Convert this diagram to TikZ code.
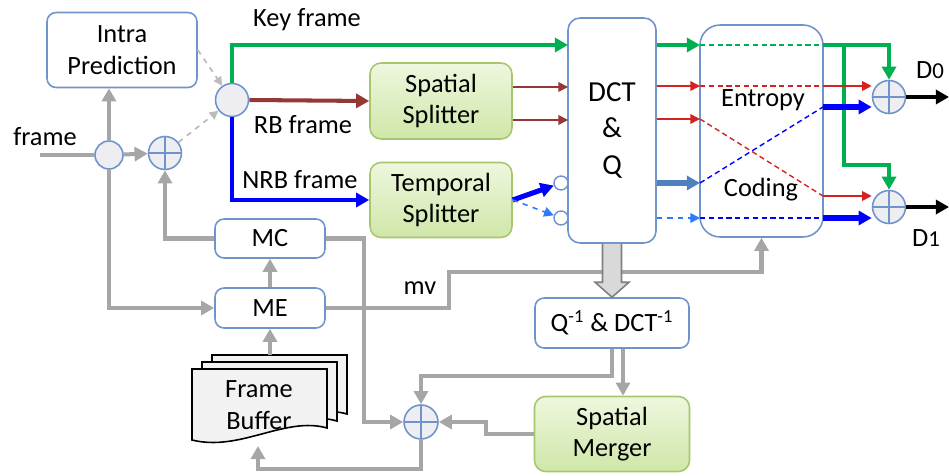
\documentclass[tikz,border=0pt]{standalone}
\usepackage{fontspec}
\setmainfont{Carlito}
\usetikzlibrary{arrows.meta,calc}

\definecolor{boxblue}{HTML}{6F94CB}
\definecolor{linegray}{HTML}{A6A6A6}
\definecolor{keygreen}{HTML}{00B050}
\definecolor{rbred}{HTML}{953735}
\definecolor{thinred}{HTML}{D42222}
\definecolor{nrbblue}{HTML}{0000FF}
\definecolor{steelblue}{HTML}{4F81BD}
\definecolor{lightblue}{HTML}{2B7BFF}
\definecolor{gtop}{HTML}{EEF7DE}
\definecolor{gbot}{HTML}{CFE7A8}
\definecolor{gborder}{HTML}{A8C66E}
\definecolor{jfill}{HTML}{EEEEF2}

\tikzset{
  box/.style={draw=boxblue,line width=0.9pt,fill=white,rounded corners=0.18cm,align=center,inner sep=2pt},
  gbox/.style={draw=gborder,line width=0.9pt,top color=gtop,bottom color=gbot,rounded corners=0.22cm,align=center,minimum width=2.84cm,minimum height=1.52cm},
  junction/.style={circle,draw=boxblue,line width=0.9pt,fill=jfill,minimum size=0.62cm,inner sep=0pt},
  adder/.style={junction,minimum size=0.66cm,path picture={\draw[boxblue,line width=0.8pt] (path picture bounding box.north) -- (path picture bounding box.south) (path picture bounding box.west) -- (path picture bounding box.east);}},
  port/.style={circle,draw=boxblue,line width=0.8pt,fill=white,minimum size=0.28cm,inner sep=0pt},
  gline/.style={draw=linegray,line width=2.3pt},
  feed/.style={draw=linegray!75,line width=1pt,dashed,>={Triangle[length=5pt,width=5pt]}},
  thin/.style={line width=0.9pt,>={Triangle[length=5.5pt,width=5.5pt]}},
  thick/.style={line width=2.3pt},
  heavy/.style={line width=2.9pt},
  inner/.style={line width=0.8pt,dash pattern=on 3pt off 2pt},
  docpage/.style={draw=black,line width=0.9pt,fill=black!5},
  bigarrow/.style={draw=black!50,line width=0.9pt,fill=black!15}
}

\begin{document}
\begin{tikzpicture}[x=0.02cm,y=-0.02cm,font=\fontsize{15}{18}\selectfont,>={Triangle[length=7.5pt,width=8pt]}]
\useasboundingbox (0,0) rectangle (949,476);

\node[box,minimum width=3cm,minimum height=1.5cm] (intra) at (122,50) {Intra\\Prediction};
\node[junction,minimum size=0.56cm] (split) at (109,155) {};
\node[adder] (addA) at (165,153) {};
\node[junction,minimum size=0.66cm] (sel) at (232,100) {};
\coordinate (fin) at (40,155);
\node (framelbl) at (45,137) {frame};

\node[gbox] (spsplit) at (441,101) {Spatial\\Splitter};
\node[gbox,minimum height=1.5cm] (tsplit) at (441,200) {Temporal\\Splitter};
\node[box,rounded corners=0.24cm,minimum width=1.76cm,minimum height=4.5cm,font=\fontsize{16.5}{20}\selectfont] (dct) at (612,130.5) {DCT\\[1pt]\&\\[1pt]Q};
\node[port] (pA) at (561,183) {};
\node[port] (pB) at (561,218) {};

\node[box,rounded corners=0.4cm,minimum width=2.46cm,minimum height=4.24cm] (entropy) at (761.5,131) {};
\node (enttxt) at (763,100) {Entropy};
\node (codtxt) at (761,190) {Coding};

\node[adder] (dA) at (889,97) {};
\node[adder] (dB) at (889,207) {};
\node (dAlbl) at (930,70) {D{\fontsize{13}{13}\selectfont 0}};
\node (dBlbl) at (926,238) {D{\fontsize{13}{13}\selectfont 1}};
\coordinate (outA) at (949,97);
\coordinate (outB) at (949,207);

\node[box,minimum width=2.2cm,minimum height=0.78cm] (mc) at (270,238.5) {MC};
\node[box,minimum width=2.2cm,minimum height=0.8cm] (me) at (270,308) {ME};
\node (mvlbl) at (420,288) {mv};
\node[box,minimum width=3.08cm,minimum height=1cm] (idct) at (612,323) {Q\textsuperscript{-1} \& DCT\textsuperscript{-1}};
\node[gbox,minimum width=3.1cm,minimum height=1.5cm] (merger) at (612,434) {Spatial\\Merger};
\node[adder,minimum size=0.68cm] (addB) at (421,422) {};

\foreach \dx/\dy in {20/-14,10/-7,0/0}
  \draw[docpage,shift={(\dx,\dy)}] (192,369) -- (327,369) -- (327,428) .. controls (285,416) and (240,452) .. (192,440) -- cycle;
\node[align=center] (buf) at (259,405) {Frame\\Buffer};
\coordinate (bufin) at (258,446);
\coordinate (bufout) at (267,355);

% ports on the DCT and entropy boxes
\coordinate (dctK) at (568,45);
\coordinate (dctRa) at (568,87);
\coordinate (dctRb) at (568,120);
\coordinate (entK) at (700,45);
\coordinate (entRa) at (700,86);
\coordinate (entRb) at (700,119);
\coordinate (entBa) at (700,183);
\coordinate (entBb) at (700,218);
\coordinate (exK) at (823,45);
\coordinate (exRa) at (823,86);
\coordinate (exRb) at (823,196);
\coordinate (exBa) at (823,107);
\coordinate (exBb) at (823,218);
\coordinate (kb) at (844,45);

\draw[gline] (fin) -- (split.west);
\draw[gline,->] (split) -- (addA);
\draw[gline,->] (split.north) -- (split.north |- intra.south);
\draw[gline,->] (split.south) |- (me.west);
\draw[gline,->] (me.north) -- (mc.south);
\draw[gline,->] (mc.west) -| (addA.south);
\draw[gline,->] (mc.east) -- ++(38,0) |- (addB.west);
\draw[gline,->] (me.east) -- ++(123,0) -- ++(0,-36) -| (entropy.south);
\draw[gline,->] (me.south |- bufout) -- (me.south);
\draw[feed,->] (intra.east) -- (sel);
\draw[feed,->] (addA) -- (sel);

\draw[keygreen,thick,->] (sel.north) |- (dctK);
\draw[rbred,thick,->] (sel.east) -- (spsplit.west);
\draw[nrbblue,thick,->] (sel.south) |- (tsplit.west);
\node (keylbl) at (307,20) {Key frame};
\node (rblbl) at (303,125) {RB frame};
\node (nrblbl) at (300,180) {NRB frame};

\draw[rbred,thin,->] (spsplit.east |- dctRa) -- (dctRa);
\draw[rbred,thin,->] (spsplit.east |- dctRb) -- (dctRb);
\draw[nrbblue,heavy,->] (tsplit.east) -- (pA);
\draw[lightblue,thin,dashed,->] (tsplit.east) -- (pB);

\draw[keygreen,thick,->] (dct.east |- entK) -- (entK);
\draw[thinred,thin,->] (dct.east |- entRa) -- (entRa);
\draw[thinred,thin,->] (dct.east |- entRb) -- (entRb);
\draw[steelblue,heavy,->] (dct.east |- entBa) -- (entBa);
\draw[lightblue,thin,dashed,->] (dct.east |- entBb) -- (entBb);

\draw[keygreen,inner] (entK) -- (exK);
\draw[thinred,inner] (entRa) -- (exRa);
\draw[thinred,inner] (entRb) -- (exRb);
\draw[nrbblue,inner] (entBa) -- (exBa);
\draw[nrbblue,inner] (entBb) -- (exBb);

\draw[keygreen,thick,->] (exK) -| (dA.north);
\draw[keygreen,thick,->] (kb) -- ++(0,120) -| (dB.north);
\draw[thinred,thin,->] (exRa) -- (exRa -| dA.west);
\draw[thinred,thin,->] (exRb) -- (exRb -| dB.west);
\draw[nrbblue,heavy,->] (exBa) -- (exBa -| dA.west);
\draw[nrbblue,heavy,->] (exBb) -- (exBb -| dB.west);
\draw[black,thick,->] (dA.east) -- (outA);
\draw[black,thick,->] (dB.east) -- (outB);

\draw[bigarrow] ($(dct.south)+(-9.5,0)$) -- ($(idct.north)+(-9.5,-15)$) -- ($(idct.north)+(-17,-15)$) -- (idct.north) -- ($(idct.north)+(17,-15)$) -- ($(idct.north)+(9.5,-15)$) -- ($(dct.south)+(9.5,0)$);
\draw[gline,->] ([xshift=0.22cm]idct.south) -- ([xshift=0.22cm]merger.north);
\draw[gline,->] (idct.south) -- ++(0,27) -| (addB.north);
\draw[gline,->] (merger.west) -- ++(-48,0) |- (addB.east);
\draw[gline,->] (addB.south) -- ++(0,29) -| (bufin);
\end{tikzpicture}
\end{document}
